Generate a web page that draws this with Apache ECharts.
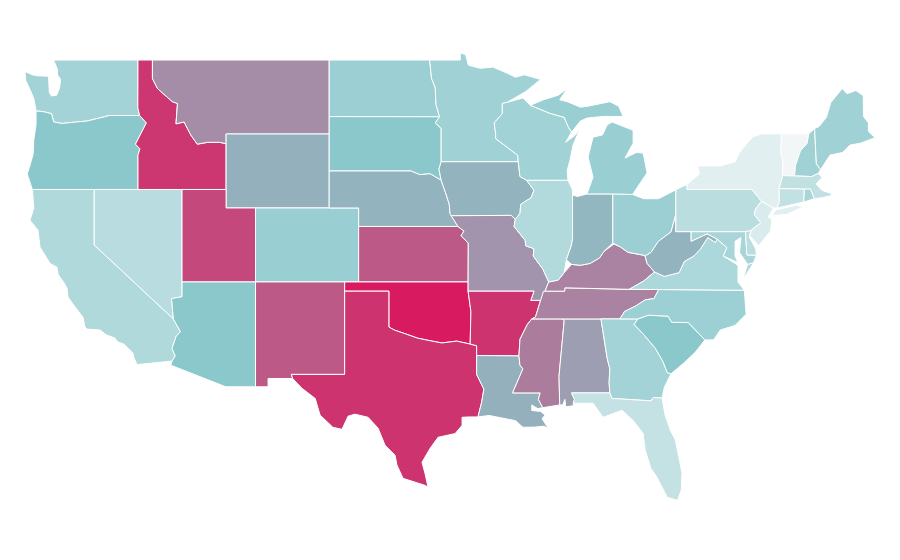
<!DOCTYPE html>
<html>
<head>
<meta charset="utf-8">
<style>
html, body { margin: 0; padding: 0; background: #fff; }
#main { width: 900px; height: 560px; }
</style>
<script src="https://cdn.jsdelivr.net/npm/echarts@6/dist/echarts.min.js"></script>
</head>
<body>
<div id="main"></div>
<script>
// values, on a 0-100 scale
var stateNames = ['Washington','Oregon','California','Nevada','Idaho','Montana','Wyoming','Utah','Colorado','Arizona','New Mexico','North Dakota','South Dakota','Nebraska','Kansas','Oklahoma','Texas','Minnesota','Iowa','Missouri','Arkansas','Louisiana','Mississippi','Alabama','Tennessee','Kentucky','Illinois','Indiana','Ohio','Wisconsin','Michigan','Georgia','Florida','South Carolina','North Carolina','Virginia','West Virginia','Maryland','Delaware','Pennsylvania','New Jersey','New York','Vermont','New Hampshire','Maine','Massachusetts','Rhode Island','Connecticut'];
var stateValues = [38,50,32,28,92,67,57,87,43,50,82,42,50,56,82,100,93,40,56,65,93,57,72,62,70,70,31,55,42,39,43,38,22,50,41,33,56,36,27,27,12,8,0,40,40,24,36,23];
var colorStops = ['#f2f6f7', '#8ac8cc', '#d81b60'];

// state outlines, lon/lat
var outlines = {
  'Washington': [[[-124.7,48.38],[-124.2,48.2],[-123.9,48.15],[-123.1,48.12],[-123.05,47.25],[-122.9,47.05],[-122.55,47.1],[-122.35,47.5],[-122.28,47.95],[-122.5,48.2],[-122.5,48.5],[-122.76,49],[-117.03,49],[-117.04,46.42],[-116.92,46],[-118.98,46],[-119.3,45.93],[-120.5,45.7],[-121.2,45.65],[-122.2,45.57],[-122.75,45.65],[-122.9,46.1],[-123.4,46.2],[-123.95,46.25],[-124.05,46.7],[-124.1,46.9],[-124.3,47.3],[-124.65,47.9]]],
  'Oregon': [[[-123.95,46.25],[-123.4,46.2],[-122.9,46.1],[-122.75,45.65],[-122.2,45.57],[-121.2,45.65],[-120.5,45.7],[-119.3,45.93],[-118.98,46],[-116.92,46],[-116.46,45.6],[-116.85,45],[-117.2,44.45],[-116.9,44.2],[-117.03,43.85],[-117.03,42],[-124.2,42],[-124.55,42.84],[-124.4,43.2],[-124.15,43.9],[-124.1,44.7],[-123.95,45.5]]],
  'California': [[[-124.2,42],[-120,42],[-120,39],[-114.63,35],[-114.14,34.3],[-114.43,34.08],[-114.72,33.4],[-114.5,33],[-114.72,32.72],[-117.1,32.53],[-117.3,32.9],[-117.37,33.15],[-118,33.65],[-118.4,33.75],[-118.59,33.96],[-119.2,34.15],[-119.6,34.4],[-120.47,34.45],[-120.63,34.55],[-120.76,35.09],[-121.3,35.65],[-121.78,36.18],[-121.85,36.66],[-122.05,36.95],[-122.45,37.4],[-122.53,37.8],[-123,38],[-123.68,38.88],[-123.82,39.8],[-124.36,40.34],[-124.1,41]]],
  'Nevada': [[[-120,42],[-114.04,42],[-114.04,36.2],[-114.75,36.1],[-114.63,35],[-120,39]]],
  'Idaho': [[[-117.03,49],[-116.05,49],[-116.05,48],[-115.7,47.45],[-114.7,46.75],[-114.35,46.65],[-114.45,45.55],[-113.9,45.65],[-113.45,44.95],[-113,44.45],[-112.3,44.55],[-111.5,44.55],[-111.05,44.48],[-111.05,42],[-117.03,42],[-117.03,43.85],[-116.9,44.2],[-117.2,44.45],[-116.85,45],[-116.46,45.6],[-116.92,46],[-117.04,46.42]]],
  'Montana': [[[-116.05,49],[-104.05,49],[-104.05,45],[-111.05,45],[-111.05,44.48],[-111.5,44.55],[-112.3,44.55],[-113,44.45],[-113.45,44.95],[-113.9,45.65],[-114.45,45.55],[-114.35,46.65],[-114.7,46.75],[-115.7,47.45],[-116.05,48]]],
  'Wyoming': [[[-111.05,45],[-104.05,45],[-104.05,41],[-111.05,41]]],
  'Utah': [[[-114.04,42],[-111.05,42],[-111.05,41],[-109.05,41],[-109.05,37],[-114.04,37]]],
  'Colorado': [[[-109.05,41],[-102.05,41],[-102.05,37],[-109.05,37]]],
  'Arizona': [[[-114.04,37],[-109.05,37],[-109.05,31.33],[-111.07,31.33],[-114.81,32.5],[-114.72,32.72],[-114.5,33],[-114.72,33.4],[-114.43,34.08],[-114.14,34.3],[-114.63,35],[-114.75,36.1],[-114.04,36.2]]],
  'New Mexico': [[[-109.05,37],[-103,37],[-103,32],[-106.62,32],[-106.53,31.78],[-108.2,31.78],[-108.2,31.33],[-109.05,31.33]]],
  'North Dakota': [[[-104.05,49],[-97.23,49],[-97.1,48],[-96.85,47.5],[-96.8,46.6],[-96.56,45.93],[-104.05,45.94]]],
  'South Dakota': [[[-104.05,45.94],[-96.56,45.93],[-96.85,45.6],[-96.45,45.3],[-96.45,43.5],[-96.6,43.1],[-96.45,42.5],[-97.2,42.85],[-97.9,42.8],[-98.5,43],[-104.05,43]]],
  'Nebraska': [[[-104.05,43],[-98.5,43],[-97.9,42.8],[-97.2,42.85],[-96.45,42.5],[-96.1,41.7],[-95.9,41.2],[-95.85,40.7],[-95.31,40],[-102.05,40],[-102.05,41],[-104.05,41]]],
  'Kansas': [[[-102.05,40],[-95.31,40],[-94.9,39.75],[-95.1,39.5],[-94.61,39.1],[-94.62,37],[-102.05,37]]],
  'Oklahoma': [[[-103,37],[-94.62,37],[-94.62,36.5],[-94.43,35.4],[-94.48,33.64],[-95.4,33.8],[-96.4,33.7],[-97.2,33.82],[-98.05,33.96],[-98.9,34.2],[-99.6,34.39],[-100,34.56],[-100,36.5],[-103,36.5]]],
  'Texas': [[[-103,36.5],[-100,36.5],[-100,34.56],[-99.6,34.39],[-98.9,34.2],[-98.05,33.96],[-97.2,33.82],[-96.4,33.7],[-95.4,33.8],[-94.48,33.64],[-94.04,33.55],[-94.04,32],[-93.55,31.2],[-93.7,30.5],[-93.95,29.7],[-94.6,29.7],[-95.03,29.68],[-95.03,29.25],[-95.5,28.8],[-96.66,28.6],[-97.2,28],[-97.4,27.73],[-97.75,27.25],[-97.55,26.65],[-97.34,25.9],[-97.55,26],[-99.04,26.38],[-99.45,27.1],[-99.58,27.63],[-100.26,28.17],[-100.73,29.09],[-101.41,29.68],[-102.3,29.85],[-102.77,29.74],[-103.18,29.03],[-103.8,29.14],[-104.67,29.8],[-105,30.7],[-105.9,31.25],[-106.53,31.78],[-106.62,32],[-103,32]]],
  'Minnesota': [[[-97.23,49],[-95.15,49],[-95.15,49.38],[-94.8,49.3],[-94.6,48.72],[-93.8,48.55],[-92.95,48.62],[-92,48.3],[-91.4,48.07],[-90.8,48.2],[-89.7,47.95],[-90.7,47.3],[-92,46.7],[-92.3,46.66],[-92.3,46.1],[-92.85,45.6],[-92.75,45],[-92.75,44.75],[-91.25,43.85],[-91.22,43.5],[-96.45,43.5],[-96.45,45.3],[-96.85,45.6],[-96.56,45.93],[-96.8,46.6],[-96.85,47.5],[-97.1,48]]],
  'Iowa': [[[-96.45,43.5],[-91.22,43.5],[-91.1,42.7],[-90.65,42.5],[-90.15,41.95],[-90.35,41.55],[-91.05,41.2],[-91.1,40.7],[-91.42,40.38],[-91.7,40.6],[-95.77,40.58],[-95.85,40.7],[-95.9,41.2],[-96.1,41.7],[-96.45,42.5],[-96.6,43.1]]],
  'Missouri': [[[-95.77,40.58],[-91.7,40.6],[-91.42,40.38],[-91.5,40],[-90.75,39.25],[-90.7,38.95],[-90.15,38.8],[-90.2,38.4],[-89.55,37.7],[-89.15,37],[-89.4,36.5],[-89.7,36],[-90.37,36],[-90.15,36.5],[-94.62,36.5],[-94.62,37],[-94.61,39.1],[-95.1,39.5],[-94.9,39.75],[-95.31,40]]],
  'Arkansas': [[[-94.62,36.5],[-90.15,36.5],[-90.37,36],[-89.7,36],[-90.05,35.1],[-90.3,35],[-90.6,34.7],[-91.1,33.9],[-91.17,33],[-94.04,33.02],[-94.04,33.55],[-94.48,33.64],[-94.43,35.4]]],
  'Louisiana': [[[-94.04,33.02],[-91.17,33],[-91.1,32.5],[-90.9,32.3],[-91.6,31],[-89.73,31],[-89.85,30.65],[-89.55,30.2],[-89.9,30.15],[-90.3,30.35],[-90.3,30.05],[-89.7,30],[-89.4,29.8],[-89.6,29.6],[-89.15,29.05],[-89.45,29.2],[-90.1,29.15],[-90.9,29.14],[-91.4,29.5],[-92.25,29.63],[-93.2,29.78],[-93.95,29.7],[-93.7,30.5],[-93.55,31.2],[-94.04,32]]],
  'Mississippi': [[[-91.17,33],[-91.1,33.9],[-90.6,34.7],[-90.3,35],[-88.2,35],[-88.1,34.9],[-88.45,31.9],[-88.4,30.35],[-89.55,30.2],[-89.85,30.65],[-89.73,31],[-91.6,31],[-90.9,32.3],[-91.1,32.5]]],
  'Alabama': [[[-88.2,35],[-85.6,35],[-85.18,32.87],[-85,32.3],[-85.05,31.55],[-85,31],[-87.6,31],[-87.4,30.65],[-87.5,30.3],[-88,30.25],[-88.05,30.65],[-88.2,30.35],[-88.4,30.35],[-88.45,31.9],[-88.1,34.9]]],
  'Tennessee': [[[-90.3,35],[-90.05,35.1],[-89.7,36],[-89.5,36.5],[-88.07,36.5],[-88.05,36.68],[-83.68,36.6],[-81.68,36.59],[-82,36.1],[-82.6,36.03],[-83.2,35.72],[-84,35.4],[-84.32,35],[-85.6,35]]],
  'Kentucky': [[[-89.4,36.5],[-89.15,37],[-88.5,37.1],[-88.1,37.5],[-87.6,37.95],[-87,37.9],[-86.34,38],[-85.7,38.3],[-85.4,38.65],[-84.72,39.05],[-84.3,38.9],[-83.76,38.6],[-82.74,38.45],[-82.6,38.4],[-82.47,38],[-81.97,37.54],[-82.7,37.05],[-83.68,36.6],[-88.05,36.68],[-88.07,36.5]]],
  'Illinois': [[[-90.65,42.5],[-87.84,42.5],[-87.55,42],[-87.53,41.7],[-87.53,39.35],[-87.6,39],[-87.95,38.2],[-88.1,37.5],[-88.5,37.1],[-89.15,37],[-89.55,37.7],[-90.2,38.4],[-90.15,38.8],[-90.7,38.95],[-90.75,39.25],[-91.5,40],[-91.42,40.38],[-91.1,40.7],[-91.05,41.2],[-90.35,41.55],[-90.15,41.95]]],
  'Indiana': [[[-87.53,41.7],[-87.2,41.62],[-86.55,41.76],[-84.8,41.76],[-84.8,39.1],[-85.4,38.65],[-85.7,38.3],[-86.34,38],[-87,37.9],[-87.6,37.95],[-87.95,38.2],[-87.6,39],[-87.53,39.35]]],
  'Ohio': [[[-84.8,41.76],[-83.45,41.73],[-82.7,41.5],[-81.7,41.5],[-80.52,41.98],[-80.52,40.64],[-80.85,39.7],[-81.7,39.2],[-82.2,38.6],[-82.6,38.4],[-82.74,38.45],[-83.76,38.6],[-84.3,38.9],[-84.8,39.1]]],
  'Wisconsin': [[[-92.3,46.66],[-92,46.7],[-90.9,46.95],[-90.4,46.55],[-89.1,46.13],[-88.1,45.9],[-87.8,45.35],[-87.6,45.1],[-88,44.55],[-87.4,44.9],[-87.05,45.25],[-87.5,44.4],[-87.7,43.6],[-87.9,43],[-87.84,42.5],[-90.65,42.5],[-91.1,42.7],[-91.22,43.5],[-91.25,43.85],[-92.75,44.75],[-92.75,45],[-92.85,45.6],[-92.3,46.1]]],
  'Michigan': [[[[-90.4,46.55],[-89.5,46.85],[-88.5,47.1],[-87.9,47.45],[-88.4,46.85],[-87.9,46.75],[-87.0,46.45],[-86.5,46.5],[-85.46,46.67],[-85,46.75],[-84.4,46.5],[-84.1,45.95],[-84.7,45.95],[-85.46,45.95],[-86.55,45.86],[-87,45.7],[-87.6,45.1],[-87.8,45.35],[-88.1,45.9],[-89.1,46.13]]],[[[-86.55,41.76],[-84.8,41.76],[-83.45,41.73],[-83.15,42.1],[-82.47,42.9],[-82.74,43.97],[-83.2,44],[-83.97,43.7],[-83.42,44.5],[-83.42,45.2],[-84.85,45.65],[-85.19,45.48],[-85.5,44.95],[-86.14,44.83],[-86.48,43.75],[-86.14,42.67]]]],
  'Georgia': [[[-85.6,35],[-84.32,35],[-83.1,35],[-83.35,34.7],[-82.75,34.2],[-81.9,33.4],[-81.4,32.7],[-81.1,32.1],[-80.85,32.03],[-81.3,31.3],[-81.45,30.72],[-82.05,30.75],[-82.2,30.57],[-84.86,30.7],[-85,31],[-85.05,31.55],[-85,32.3],[-85.18,32.87]]],
  'Florida': [[[-87.6,31],[-85,31],[-84.86,30.7],[-82.2,30.57],[-82.05,30.75],[-81.45,30.72],[-81.25,29.8],[-80.9,29],[-80.55,28.45],[-80.1,26.65],[-80.15,25.75],[-80.4,25.2],[-81.1,25.35],[-81.8,26.44],[-82.2,26.9],[-82.6,27.9],[-82.74,28.8],[-83.4,29.5],[-84.17,30.06],[-85.46,29.68],[-86.14,30.44],[-87.5,30.44],[-87.4,30.65]]],
  'South Carolina': [[[-83.35,34.7],[-83.1,35],[-82.4,35.2],[-81.05,35.15],[-80.8,34.82],[-79.67,34.8],[-78.55,33.86],[-79.2,33.2],[-80,32.6],[-80.85,32.03],[-81.1,32.1],[-81.4,32.7],[-81.9,33.4],[-82.75,34.2]]],
  'North Carolina': [[[-84.32,35],[-84,35.4],[-83.2,35.72],[-82.6,36.03],[-82,36.1],[-81.68,36.59],[-75.87,36.55],[-75.75,35.25],[-76.5,34.65],[-77.5,34.4],[-77.95,33.87],[-78.55,33.86],[-79.67,34.8],[-80.8,34.82],[-81.05,35.15],[-82.4,35.2],[-83.1,35]]],
  'Virginia': [[[[-83.68,36.6],[-82.7,37.05],[-81.97,37.54],[-81.3,37.3],[-80.3,37.5],[-79.95,38.1],[-79.3,38.4],[-78.87,38.76],[-78.35,39.4],[-77.83,39.13],[-77.72,39.32],[-77.05,38.85],[-77.3,38.4],[-76.3,37.9],[-76.3,37],[-75.87,36.55],[-81.68,36.59]]],[[[-75.95,37.15],[-75.25,38.03],[-75.65,37.95]]]],
  'West Virginia': [[[-82.47,38],[-82.6,38.4],[-82.2,38.6],[-81.7,39.2],[-80.85,39.7],[-80.52,40.64],[-80.52,39.72],[-79.48,39.72],[-79.48,39.2],[-78.4,39.6],[-77.72,39.32],[-77.83,39.13],[-78.35,39.4],[-78.87,38.76],[-79.3,38.4],[-79.95,38.1],[-80.3,37.5],[-81.3,37.3],[-81.97,37.54]]],
  'Maryland': [[[-79.48,39.72],[-75.79,39.72],[-75.7,38.46],[-75.05,38.45],[-75.25,38.03],[-75.65,37.95],[-76.2,38.6],[-76.1,39.4],[-76.5,39.2],[-76.5,38.4],[-76.3,38.05],[-77.3,38.4],[-77.05,38.85],[-77.72,39.32],[-78.4,39.6],[-79.48,39.2]]],
  'Delaware': [[[-75.79,39.72],[-75.4,39.8],[-75.55,39.45],[-75.1,38.8],[-75.05,38.45],[-75.7,38.46]]],
  'Pennsylvania': [[[-80.52,41.98],[-80.1,42.15],[-79.76,42.27],[-79.76,42],[-75.35,42],[-74.7,41.36],[-75.1,40.95],[-75.2,40.65],[-74.75,40.2],[-75.4,39.8],[-75.79,39.72],[-80.52,39.72]]],
  'New Jersey': [[[-74.7,41.36],[-73.9,41],[-74.25,40.5],[-74,40.4],[-74.1,39.75],[-74.9,38.95],[-75.5,39.5],[-75.4,39.8],[-74.75,40.2],[-75.2,40.65],[-75.1,40.95]]],
  'New York': [[[[-79.76,42],[-79.76,42.27],[-78.9,42.85],[-79.05,43.27],[-77.5,43.27],[-76.5,43.5],[-76.2,44],[-75.3,44.85],[-74.7,45],[-73.35,45.01],[-73.4,44],[-73.25,43.55],[-73.27,42.75],[-73.5,42.05],[-73.5,41.3],[-73.65,41],[-73.9,41],[-74.7,41.36],[-75.35,42]]],[[[-74,40.6],[-73.7,40.9],[-72.3,41.15],[-71.9,41.05],[-73,40.65]]]],
  'Vermont': [[[-73.35,45.01],[-71.5,45.01],[-71.6,44.5],[-72.05,44.1],[-72.4,43.3],[-72.46,42.73],[-73.27,42.75],[-73.25,43.55],[-73.4,44]]],
  'New Hampshire': [[[-71.5,45.01],[-71.1,45.3],[-70.98,43.4],[-70.7,43.07],[-70.85,42.87],[-71.3,42.7],[-72.46,42.73],[-72.4,43.3],[-72.05,44.1],[-71.6,44.5]]],
  'Maine': [[[-71.1,45.3],[-70.8,45.4],[-70.3,45.9],[-70,46.7],[-69.22,47.46],[-68.9,47.18],[-68.3,47.35],[-67.8,47.07],[-67.78,45.95],[-67.45,45.6],[-67.45,45.15],[-67,44.8],[-68,44.5],[-68.7,44.4],[-69.2,44],[-70.05,43.86],[-70.7,43.07],[-70.98,43.4]]],
  'Massachusetts': [[[-73.5,42.05],[-73.27,42.75],[-72.46,42.73],[-71.3,42.7],[-70.85,42.87],[-70.6,42.65],[-71,42.3],[-70.6,41.95],[-70,41.8],[-70.05,42.05],[-69.95,41.67],[-70.65,41.55],[-71.12,41.5],[-71.38,42.02],[-71.8,42.02]]],
  'Rhode Island': [[[-71.8,42.02],[-71.38,42.02],[-71.12,41.5],[-71.85,41.32]]],
  'Connecticut': [[[-73.5,42.05],[-71.8,42.02],[-71.85,41.32],[-73.65,41],[-73.5,41.3]]]
};

var features = stateNames.map(function (name) {
  var shape = outlines[name];
  var isMulti = shape[0][0][0].length === 2;
  return {
    type: 'Feature',
    properties: { name: name },
    geometry: { type: isMulti ? 'MultiPolygon' : 'Polygon', coordinates: shape }
  };
});
echarts.registerMap('USA', { type: 'FeatureCollection', features: features });

var seriesData = stateNames.map(function (name, i) {
  return { name: name, value: stateValues[i] };
});

var myChart = echarts.init(document.getElementById('main'));
myChart.setOption({
  backgroundColor: '#fff',
  animation: false,
  visualMap: {
    show: false,
    min: 0,
    max: 100,
    inRange: { color: colorStops }
  },
  series: [{
    type: 'map',
    map: 'USA',
    roam: false,
    aspectScale: 0.797,
    boundingCoords: [[-124.7, 49.38], [-67, 25.1]],
    left: 25,
    top: 53,
    width: 850,
    height: 449,
    label: { show: false },
    itemStyle: { borderColor: '#fff', borderWidth: 1 },
    emphasis: { disabled: true },
    select: { disabled: true },
    data: seriesData
  }]
});
</script>
</body>
</html>
